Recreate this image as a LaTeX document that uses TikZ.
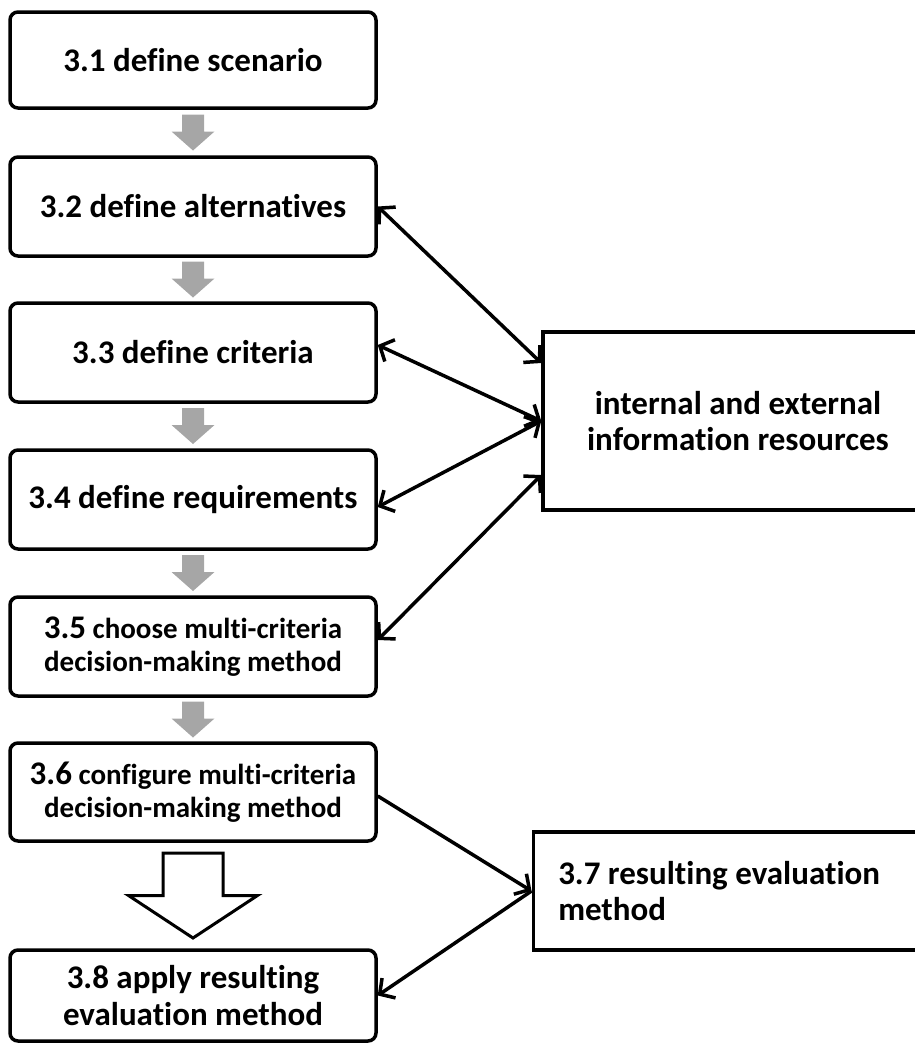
\documentclass[tikz,border=0pt]{standalone}
\usepackage{fontspec}
\setmainfont{Carlito}[Ligatures=NoCommon]
\usetikzlibrary{arrows.meta,calc}

\newcommand{\bignum}{\fontsize{33}{34}\selectfont}
\newcommand{\smallsz}{\bfseries\fontsize{29}{33}\selectfont}

\tikzset{
  stepbox/.style={draw,line width=3.5pt,rounded corners=8pt,minimum width=366pt,
    minimum height=99pt,align=center,inner sep=2pt,font=\bfseries\fontsize{33}{37}\selectfont},
  sidebox/.style={draw,line width=3.5pt,inner sep=2pt,font=\bfseries\fontsize{33}{36}\selectfont},
  link/.style={line width=3.5pt,{Straight Barb[length=11pt,width=24pt]}-{Straight Barb[length=11pt,width=24pt]}},
  oneway/.style={line width=3.5pt,-{Straight Barb[length=11pt,width=24pt]}},
}

\begin{document}
\begin{tikzpicture}[x=1pt,y=-1pt]
  \useasboundingbox (0,0) rectangle (914,1044);
  % steps on the left
  \node[stepbox,minimum height=96pt] (s1) at (193,60) {3.1 define scenario};
  \node[stepbox] (s2) at (193,206.5) {3.2 define alternatives};
  \node[stepbox] (s3) at (193,352.5) {3.3 define criteria};
  \node[stepbox] (s4) at (193,499.5) {3.4 define requirements};
  \node[stepbox,font=\smallsz] (s5) at (193,646.5) {{\bignum 3.5} choose multi-criteria\\decision-making method};
  \node[stepbox,font=\smallsz,minimum height=98pt] (s6) at (193,792) {{\bignum 3.6} configure multi-criteria\\decision-making method};
  \node[stepbox,minimum height=91pt] (s8) at (193,995.5) {3.8 apply resulting\\evaluation method};
  % boxes on the right
  \node[sidebox,minimum width=390pt,minimum height=178pt,align=center] (info) at (738,421) {internal and external\\information resources};
  \node[sidebox,anchor=west,minimum height=118pt,text width=355pt,inner xsep=25pt,align=flush left] (r7) at (531.5,891) {3.7 resulting evaluation\\method};
  % grey arrows between the steps
  \foreach \a/\b in {s1/s2,s2/s3,s3/s4,s4/s5,s5/s6}
    \fill[black!35] ($(\a.south)!0.5!(\b.north)$) ++(-11,-18) -- ++(22,0) -- ++(0,17)
      -- ++(10.5,0) -- ++(-21.5,19) -- ++(-21.5,-19) -- ++(10.5,0) -- cycle;
  \draw[line width=3pt,fill=white] ($(s6.south)!0.5!(s8.north)$) ++(-30,-42.5) -- ++(60,0)
    -- ++(0,42.5) -- ++(34.5,0) -- ++(-64.5,42.5) -- ++(-64.5,-42.5) -- ++(34.5,0) -- cycle;
  % links to the information resources
  \draw[link] (s2.east) -- ([yshift=58pt]info.west);
  \draw[link] ([yshift=7.5pt]s3.east) -- (info.west);
  \draw[link] ([yshift=-7.5pt]s4.east) -- (info.west);
  \draw[link] ([yshift=6.5pt]s5.east) -- ([yshift=-54pt]info.west);
  \draw[oneway] ([yshift=-4pt]s6.east) -- (r7.west);
  \draw[oneway] (r7.west) -- (s8.east);
\end{tikzpicture}
\end{document}
